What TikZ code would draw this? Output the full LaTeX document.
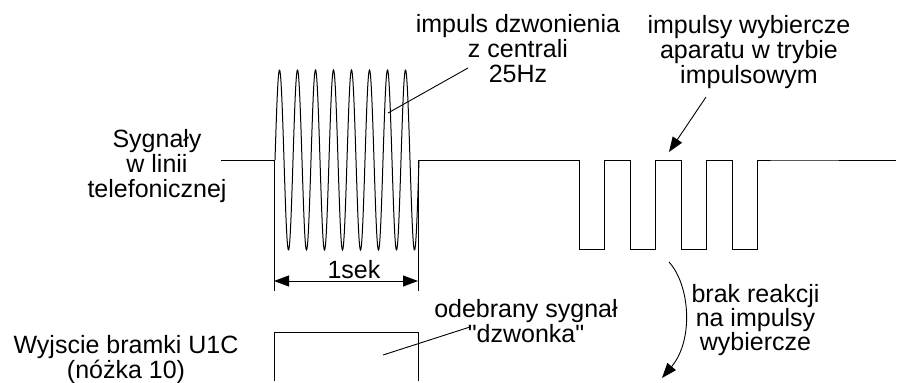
\documentclass[tikz,border=0pt]{standalone}
\usepackage{fontspec}
\setmainfont{Liberation Sans}[Ligatures=TeXOff]
\usepackage{tikz}
\usetikzlibrary{arrows.meta}

\begin{document}
\begin{tikzpicture}
[
x=1pt, y=-1pt,
sig/.style={line width=1pt, line join=miter},
lbl/.style={align=center, inner sep=0pt, anchor=base, font=\fontsize{25}{25}\selectfont},
ptr/.style={line width=0.9pt},
tip/.style={line width=0.9pt, -{Triangle[length=15pt,width=11pt]}},
dim/.style={line width=0.9pt, {Triangle[length=15pt,width=11pt]}-{Triangle[length=15pt,width=11pt]}}
]
\useasboundingbox (0,0) rectangle (898,383);

%Nodes (placed at the baseline of their last line)
\node[lbl]  (line)  at (157,197.5)  {Sygnały\\w linii\\telefonicznej};
\node[lbl]  (ring)  at (518,82.5)   {impuls dzwonienia\\z centrali\\25Hz};
\node[lbl]  (dial)  at (749,83)     {impulsy wybiercze\\aparatu w trybie\\impulsowym};
\node[lbl, font=\fontsize{25}{24}\selectfont]  (norx)  at (755.5,350)  {brak reakcji\\na impulsy\\wybiercze};
\node[lbl]  (recv)  at (526,342)    {odebrany sygnał\\"dzwonka"};
\node[lbl, font=\fontsize{25}{19.5}\selectfont]  (gate)  at (126,378.5)  {Wyjscie bramki U1C\\(nóżka 10)};
\node[lbl]  (sec)   at (354,278.5)  {1sek};

\coordinate (dimL) at (274,281);
\coordinate (dimR) at (418,281);
\coordinate (ringP) at (388,113);
\coordinate (ringE) at (468,68);
\coordinate (dialS) at (706,97);
\coordinate (dialP) at (669,152);
\coordinate (recvP) at (383,355);
\coordinate (recvE) at (470,327);
\coordinate (norxS) at (669,262);
\coordinate (norxE) at (662,378);

%Lines
% phone line: burst, then dial pulses
\draw[sig] (221,160) -- (274,160) -- (274,291);
\draw[sig] plot[domain=0:144, samples=400, smooth] ({275+\x},{160-90*sin(20*\x)});
\draw[sig] (418,291) -- (418,160) -- (579,160)
  \foreach \k in {0,...,3} { -- ++(0,89) -- ++(25.5,0) -- ++(0,-89) -- ++(25.5,0) }
  -- (896,160);
% gate output
\draw[sig] (274,381) -- (274,332) -- (418,332) -- (418,381);

\draw[dim] (dimL) -- (dimR);
\draw[ptr] (ringP) -- (ringE);
\draw[tip] (dialS) -- (dialP);
\draw[ptr] (recvP) -- (recvE);
\draw[tip] (norxS) .. controls (690,285) and (694,340) .. (norxE);
\end{tikzpicture}
\end{document}
